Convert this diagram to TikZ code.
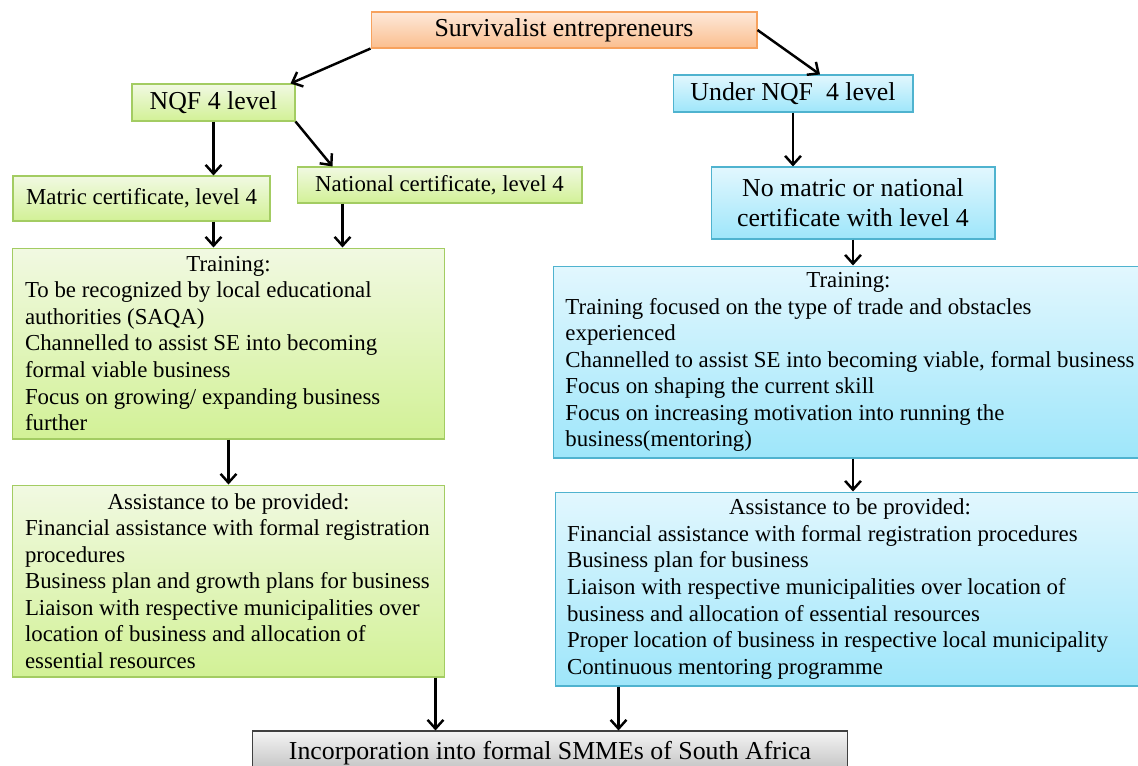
\documentclass[tikz,border=0pt]{standalone}
\usepackage{fontspec}
\setmainfont{Liberation Serif}
\usepackage{tikz}
\usetikzlibrary{positioning,arrows.meta}

\definecolor{orbord}{HTML}{F7A25E}
\definecolor{ortop}{HTML}{FDE9DA}
\definecolor{orbot}{HTML}{FBBE8E}
\definecolor{grbord}{HTML}{A3CC62}
\definecolor{grtop}{HTML}{F1F9E2}
\definecolor{grbot}{HTML}{D2F196}
\definecolor{blbord}{HTML}{4FB3CF}
\definecolor{bltop}{HTML}{E2F7FE}
\definecolor{blbot}{HTML}{9EE6FA}
\definecolor{gybord}{HTML}{404040}
\definecolor{gytop}{HTML}{F4F4F4}
\definecolor{gybot}{HTML}{BDBDBD}

\tikzset{
  head/.style={font=\fontsize{14.7}{17}\selectfont},
  body/.style={font=\fontsize{13}{15.1}\selectfont},
  orangebox/.style={draw=orbord, top color=ortop, bottom color=orbot, line width=0.6pt},
  greenbox/.style={draw=grbord, top color=grtop, bottom color=grbot, line width=0.6pt},
  bluebox/.style={draw=blbord, top color=bltop, bottom color=blbot, line width=0.6pt},
  greybox/.style={draw=gybord, top color=gytop, bottom color=gybot, line width=0.6pt},
  arr/.style={-{Straight Barb[length=5pt,width=9pt]}, line width=1.4pt},
}

\begin{document}
\begin{tikzpicture}[x=0.02cm, y=-0.02cm]
\useasboundingbox (0,0) rectangle (1138,765);

% top of the tree
\node[orangebox, head, minimum width=7.72cm, minimum height=0.72cm] (surv) at (564,30) {Survivalist entrepreneurs};
\node[greenbox, head, minimum width=3.26cm, minimum height=0.74cm] (nqf) at (213.5,102.5) {NQF 4 level};
\node[bluebox, head, minimum width=4.8cm, minimum height=0.74cm] (under) at (793,93.5) {Under NQF~~4 level};

% certificates
\node[greenbox, body, minimum width=5.14cm, minimum height=0.9cm] (matric) at (141.5,198.5) {Matric certificate, level 4};
\node[greenbox, body, minimum width=5.7cm, minimum height=0.72cm] (natl) at (439.5,185) {National certificate, level 4};
\node[bluebox, head, align=center, minimum width=5.68cm, minimum height=1.44cm] (nomat) at (853,203) {No matric or national\\certificate with level 4};

% training
\node[greenbox, body, align=left, inner xsep=0.26cm, minimum width=8.66cm, minimum height=3.82cm] (trainL) at (228.5,343.5) {%
\makebox[8.14cm]{Training:}\\
To be recognized by local educational\\
authorities (SAQA)\\
Channelled to assist SE into becoming\\
formal viable business\\
Focus on growing/ expanding business\\
further};
\node[bluebox, body, align=left, inner xsep=0.24cm, minimum width=11.8cm, minimum height=3.84cm] (trainR) at (850,362) {%
\makebox[11.32cm]{Training:}\\
Training focused on the type of trade and obstacles\\
experienced\\
Channelled to assist SE into becoming viable, formal business\\
Focus on shaping the current skill\\
Focus on increasing motivation into running the\\
business(mentoring)};

% assistance
\node[greenbox, body, align=left, inner xsep=0.26cm, minimum width=8.66cm, minimum height=3.84cm] (assistL) at (228.5,581) {%
\makebox[8.14cm]{Assistance to be provided:}\\
Financial assistance with formal registration\\
procedures\\
Business plan and growth plans for business\\
Liaison with respective municipalities over\\
location of business and allocation of\\
essential resources};
\node[bluebox, body, align=left, inner xsep=0.24cm, minimum width=11.8cm, minimum height=3.88cm] (assistR) at (850,589) {%
\makebox[11.32cm]{Assistance to be provided:}\\
Financial assistance with formal registration procedures\\
Business plan for business\\
Liaison with respective municipalities over location of\\
business and allocation of essential resources\\
Proper location of business in respective local municipality\\
Continuous mentoring programme};

\node[greybox, head, minimum width=11.92cm, minimum height=0.88cm] (incorp) at (550,753) {Incorporation into formal SMMEs of South Africa};

% connectors
\path (natl.south west) ++(46,0) coordinate (n1);
\path (assistL.south east) ++(-10,0) coordinate (a1);
\path (assistR.south west) ++(64,0) coordinate (a2);

\draw[arr] (surv.south west) -- ([xshift=-0.1cm]nqf.north east);
\draw[arr] (surv.east) -- ([xshift=0.54cm]under.north);
\draw[arr] (nqf.south) -- (nqf.south |- matric.north);
\draw[arr] (nqf.south east) -- ([xshift=0.72cm]natl.north west);
\draw[arr] (under.south) -- (under.south |- nomat.north);
\draw[arr] (nqf.south |- matric.south) -- (nqf.south |- trainL.north);
\draw[arr] (n1) -- (n1 |- trainL.north);
\draw[arr] (nomat.south) -- (nomat.south |- trainR.north);
\draw[arr] (trainL.south) -- (trainL.south |- assistL.north);
\draw[arr] (trainR.south -| nomat.south) -- (assistR.north -| nomat.south);
\draw[arr] (a1) -- (a1 |- incorp.north);
\draw[arr] (a2) -- (a2 |- incorp.north);
\end{tikzpicture}
\end{document}
